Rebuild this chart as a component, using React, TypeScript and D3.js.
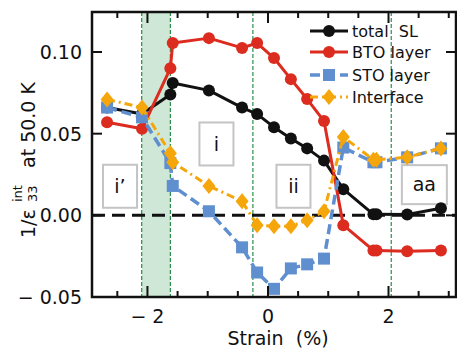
import { useMemo } from "react"
import * as d3 from "d3"

// strain values (%) shared by all series
const strain = [-2.67, -2.09, -1.62, -1.58, -0.98, -0.43, -0.18, 0.1, 0.38, 0.65, 0.93, 1.25, 1.75, 1.8, 2.31, 2.87]

const totalSL = [0.066, 0.062, 0.074, 0.081, 0.0765, 0.066, 0.062, 0.054, 0.047, 0.041, 0.0335, 0.016, 0.0006, 0.0006, 0.0005, 0.0043]
const btoLayer = [0.057, 0.053, 0.09, 0.1055, 0.1085, 0.1025, 0.1055, 0.0963, 0.0834, 0.0712, 0.0577, -0.006, -0.0215, -0.0215, -0.022, -0.0215]
const stoLayer = [0.066, 0.06, 0.032, 0.018, 0.0025, -0.0196, -0.035, -0.045, -0.0325, -0.03, -0.0265, 0.0415, 0.0325, 0.0325, 0.0355, 0.041]
const interfaceVals = [0.071, 0.066, 0.038, 0.0325, 0.018, 0.0086, -0.006, -0.0067, -0.0067, -0.003, 0.0025, 0.048, 0.034, 0.034, 0.0356, 0.041]

const seriesNames = ["total SL", "BTO layer", "STO layer", "Interface"]

const xTicks = [-2, 0, 2]
const yTicks = [-0.05, 0, 0.05, 0.1]

// shaded strain band and phase boundaries
const band = [-2.095, -1.62]
const boundaries = [-2.095, -1.62, -0.25, 2.045]

// phase labels (centre in data coordinates)
const phases = [
  { label: "i\u2019", s: -2.455, v: 0.0178 },
  { label: "i", s: -0.855, v: 0.0437 },
  { label: "ii", s: 0.423, v: 0.0178 },
  { label: "aa", s: 2.595, v: 0.0188 },
]

const W = 457
const H = 349
const font = "DejaVu Sans, sans-serif"

const fmt = (v: number, digits: number) => {
  const s = Math.abs(v).toFixed(digits)
  return v < 0 ? "\u2212 " + s : s
}

type Style = {
  color: string
  width: number
  dash: string
  marker: "circle" | "square" | "diamond"
}

const styles: Style[] = [
  { color: "#111111", width: 3, dash: "none", marker: "circle" },
  { color: "#dc2b1f", width: 3, dash: "none", marker: "circle" },
  { color: "#5f8fcf", width: 3.5, dash: "10,5", marker: "square" },
  { color: "#f4a60a", width: 3, dash: "8,4,2,4", marker: "diamond" },
]

function Marker({ x, y, st }: { x: number; y: number; st: Style }) {
  if (st.marker === "circle") return <circle cx={x} cy={y} r={6} fill={st.color} />
  if (st.marker === "square")
    return <rect x={x - 6} y={y - 6} width={12} height={12} fill={st.color} />
  return (
    <path
      d={`M${x},${y - 8} L${x + 6.5},${y} L${x},${y + 8} L${x - 6.5},${y} Z`}
      fill={st.color}
    />
  )
}

export default function App() {
  const x = useMemo(() => d3.scaleLinear().domain([-2.92, 3.12]).range([92, 456]), [])
  const y = useMemo(() => d3.scaleLinear().domain([-0.05, 0.1245]).range([297, 12]), [])

  const allSeries = [totalSL, btoLayer, stoLayer, interfaceVals]
  const line = d3
    .line<number>()
    .x((_, i) => x(strain[i]))
    .y((d) => y(d))

  const [x0, x1] = x.range()
  const [yb, yt] = y.range()
  const minor = d3.range(-2.5, 3.01, 0.5).filter((t) => !xTicks.includes(t))

  return (
    <div style={{ position: "fixed", left: 0, top: 0 }}>
      <svg width={W} height={H} style={{ display: "block", background: "#fff" }}>
        {/* green band + boundaries */}
        <rect x={x(band[0])} y={yt} width={x(band[1]) - x(band[0])} height={yb - yt} fill="#cfe7d6" />
        {boundaries.map((b, i) => (
          <line key={i} x1={x(b)} x2={x(b)} y1={yt} y2={yb} stroke="#13853a" strokeWidth={1.1} strokeDasharray="4,2" />
        ))}

        {/* zero line */}
        <line x1={x0} x2={x1} y1={y(0)} y2={y(0)} stroke="#111" strokeWidth={3} strokeDasharray="13,7" />

        {/* phase boxes */}
        {phases.map((p) => {
          const w = p.label === "aa" ? 45 : 34
          const h = p.label === "aa" ? 39 : 43
          return (
            <g key={p.label}>
              <rect x={x(p.s) - w / 2} y={y(p.v) - h / 2} width={w} height={h} fill="#fff" stroke="#c4c4c4" strokeWidth={2} />
              <text x={x(p.s)} y={y(p.v)} dy="0.36em" textAnchor="middle" fontFamily={font} fontSize={19} fill="#111">
                {p.label}
              </text>
            </g>
          )
        })}

        {/* series */}
        {allSeries.map((vals, si) => {
          const st = styles[si]
          return (
            <g key={si}>
              <path d={line(vals) || ""} fill="none" stroke={st.color} strokeWidth={st.width} strokeDasharray={st.dash} strokeLinejoin="round" />
              {vals.map((v, i) => (
                <Marker key={i} x={x(strain[i])} y={y(v)} st={st} />
              ))}
            </g>
          )
        })}

        {/* legend */}
        {seriesNames.map((name, i) => {
          const st = styles[i]
          const ly = [31, 52, 75, 97][i]
          return (
            <g key={name}>
              <line x1={310} x2={348} y1={ly} y2={ly} stroke={st.color} strokeWidth={st.width} strokeDasharray={st.dash === "none" ? undefined : st.dash} />
              <Marker x={329} y={ly} st={st} />
              <text x={352} y={ly} dy="0.36em" fontFamily={font} fontSize={16} fill="#111" style={{ whiteSpace: "pre" }}>
                {name.replace(" SL", "  SL")}
              </text>
            </g>
          )
        })}

        {/* frame */}
        <rect x={x0} y={yt} width={x1 - x0} height={yb - yt} fill="none" stroke="#111" strokeWidth={2.5} />

        {/* x ticks */}
        {xTicks.map((t) => (
          <g key={t}>
            <line x1={x(t)} x2={x(t)} y1={yb} y2={yb - 11} stroke="#111" strokeWidth={2} />
            <line x1={x(t)} x2={x(t)} y1={yt} y2={yt + 11} stroke="#111" strokeWidth={2} />
            <text x={x(t)} y={323} textAnchor="middle" fontFamily={font} fontSize={19} fill="#111">
              {fmt(t, 0)}
            </text>
          </g>
        ))}
        {minor.map((t) => (
          <g key={t}>
            <line x1={x(t)} x2={x(t)} y1={yb} y2={yb - 6} stroke="#111" strokeWidth={2} />
            <line x1={x(t)} x2={x(t)} y1={yt} y2={yt + 6} stroke="#111" strokeWidth={2} />
          </g>
        ))}

        {/* y ticks */}
        {yTicks.map((t) => (
          <g key={t}>
            <line x1={x0} x2={x0 + 10} y1={y(t)} y2={y(t)} stroke="#111" strokeWidth={2} />
            <line x1={x1} x2={x1 - 10} y1={y(t)} y2={y(t)} stroke="#111" strokeWidth={2} />
            <text x={82} y={y(t)} dy="0.36em" textAnchor="end" fontFamily={font} fontSize={19} fill="#111">
              {fmt(t, 2)}
            </text>
          </g>
        ))}

        {/* axis labels */}
        <text x={(x0 + x1) / 2 + 4} y={345} textAnchor="middle" fontFamily={font} fontSize={19} fill="#111" style={{ whiteSpace: "pre" }}>
          Strain  (%)
        </text>
        <g transform={`translate(35,156) rotate(-90)`}>
          <text fontFamily={font} fontSize={19} fill="#111">
            <tspan x={-82} y={0}>1/ε</tspan>
            <tspan x={-46} y={-13} fontSize={13}>int</tspan>
            <tspan x={-46} y={2} fontSize={13}>33</tspan>
            <tspan x={-12} y={0}>at 50.0 K</tspan>
          </text>
        </g>
      </svg>
    </div>
  )
}
